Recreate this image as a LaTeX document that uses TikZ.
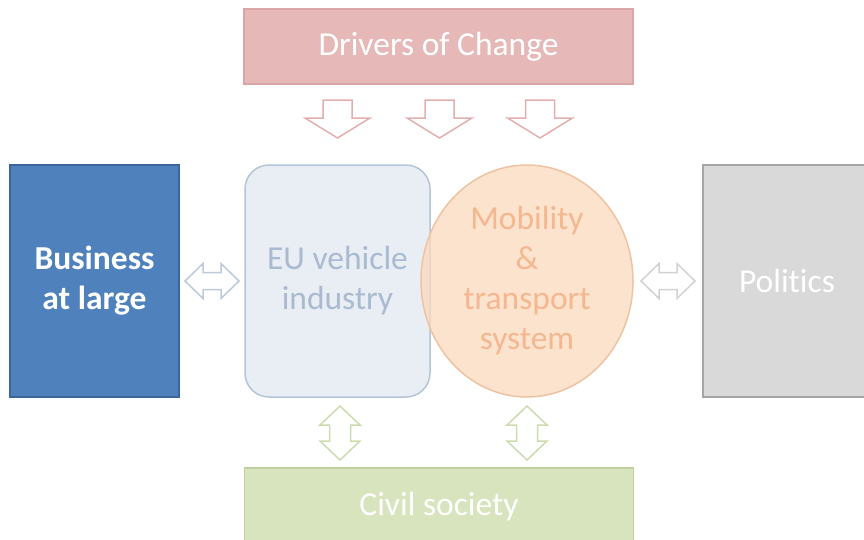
\documentclass[tikz,border=0pt]{standalone}
\usepackage{fontspec}
\setmainfont[Ligatures={NoCommon}]{Carlito}
\usetikzlibrary{calc,shapes.geometric}

\definecolor{drvfill}{HTML}{E6B9B8}
\definecolor{drvline}{HTML}{D9A6A5}
\definecolor{busfill}{HTML}{4F81BD}
\definecolor{busline}{HTML}{3C6699}
\definecolor{indfill}{HTML}{E9EEF4}
\definecolor{indline}{HTML}{B4C4D9}
\definecolor{indtext}{HTML}{A9BAD1}
\definecolor{mobfill}{HTML}{FBD9BE}
\definecolor{mobline}{HTML}{EFC3A2}
\definecolor{mobtext}{HTML}{F4B78F}
\definecolor{polfill}{HTML}{D9D9D9}
\definecolor{polline}{HTML}{A6A6A6}
\definecolor{civfill}{HTML}{D7E4BD}
\definecolor{civline}{HTML}{BFD19D}
\definecolor{pinkarrow}{HTML}{E2AFAE}
\definecolor{bluearrow}{HTML}{BCCADC}
\definecolor{grayarrow}{HTML}{D2D2D2}
\definecolor{greenarrow}{HTML}{CCDCAE}

\tikzset{
	box/.style={rectangle, minimum height=232pt, align=center, inner sep=0pt,
		font=\fontsize{33.5}{40}\selectfont, line width=1.5pt},
	band/.style={rectangle, minimum width=389pt, minimum height=75pt, inner sep=0pt,
		font=\fontsize{33.5}{40}\selectfont, line width=1.5pt, text=white},
	harrow/.pic={
		\draw[pic actions] (-27,0) -- (-9,-17.5) -- (-9,-8.5) -- (9,-8.5) -- (9,-17.5)
			-- (27,0) -- (9,17.5) -- (9,8.5) -- (-9,8.5) -- (-9,17.5) -- cycle;
	},
	varrow/.pic={
		\draw[pic actions] (0,-27) -- (-20,-8) -- (-10.5,-8) -- (-10.5,8) -- (-20,8)
			-- (0,27) -- (20,8) -- (10.5,8) -- (10.5,-8) -- (20,-8) -- cycle;
	},
	downarrow/.pic={
		\draw[pic actions] (-14.5,0) -- (14.5,0) -- (14.5,18) -- (32.5,18) -- (0,38)
			-- (-32.5,18) -- (-14.5,18) -- cycle;
	},
}

\begin{document}
\begin{tikzpicture}[x=1pt, y=-1pt]

% frame %{{{2

	\useasboundingbox (0,0) rectangle (864,539);

% boxes %{{{2

	\node[band, fill=drvfill, draw=drvline] (drivers) at (438.5,46.5) {Drivers of Change};

	\node[box, minimum width=169pt, fill=busfill, draw=busline, text=white,
		font=\fontsize{33.5}{40}\selectfont\bfseries] (business) at (94.5,281) {Business\\at large};

	\node[box, minimum width=185pt, rounded corners=24pt, fill=indfill, draw=indline,
		text=indtext] (industry) at (337.5,281) {EU vehicle\\industry};

	\node[box, ellipse, minimum width=212pt, fill=mobfill, fill opacity=0.75, text opacity=1,
		draw=mobline, text=mobtext] (mobility) at (527,281) {Mobility\\\&\\transport\\system};

	\node[box, minimum width=168pt, fill=polfill, draw=polline, text=white] (politics) at (787,281) {Politics};

	\node[band, minimum height=78pt, fill=civfill, draw=civline] (civil) at (439,507) {Civil society};

% block arrows %{{{2

	\foreach \x in {337.5,439.5,540} {
		\pic[draw=pinkarrow, fill=white, line width=1.5pt] at (\x,100) {downarrow};
	}

	\pic[draw=bluearrow, fill=white, line width=1.5pt] at ($(business.east)!0.5!(industry.west)$) {harrow};
	\pic[draw=grayarrow, fill=white, line width=1.5pt] at ($(mobility.east)!0.5!(politics.west)$) {harrow};

	\pic[draw=greenarrow, fill=white, line width=1.5pt] at (340,433) {varrow};
	\pic[draw=greenarrow, fill=white, line width=1.5pt] at (527,433) {varrow};

% closing %{{{2

\end{tikzpicture}
\end{document}
